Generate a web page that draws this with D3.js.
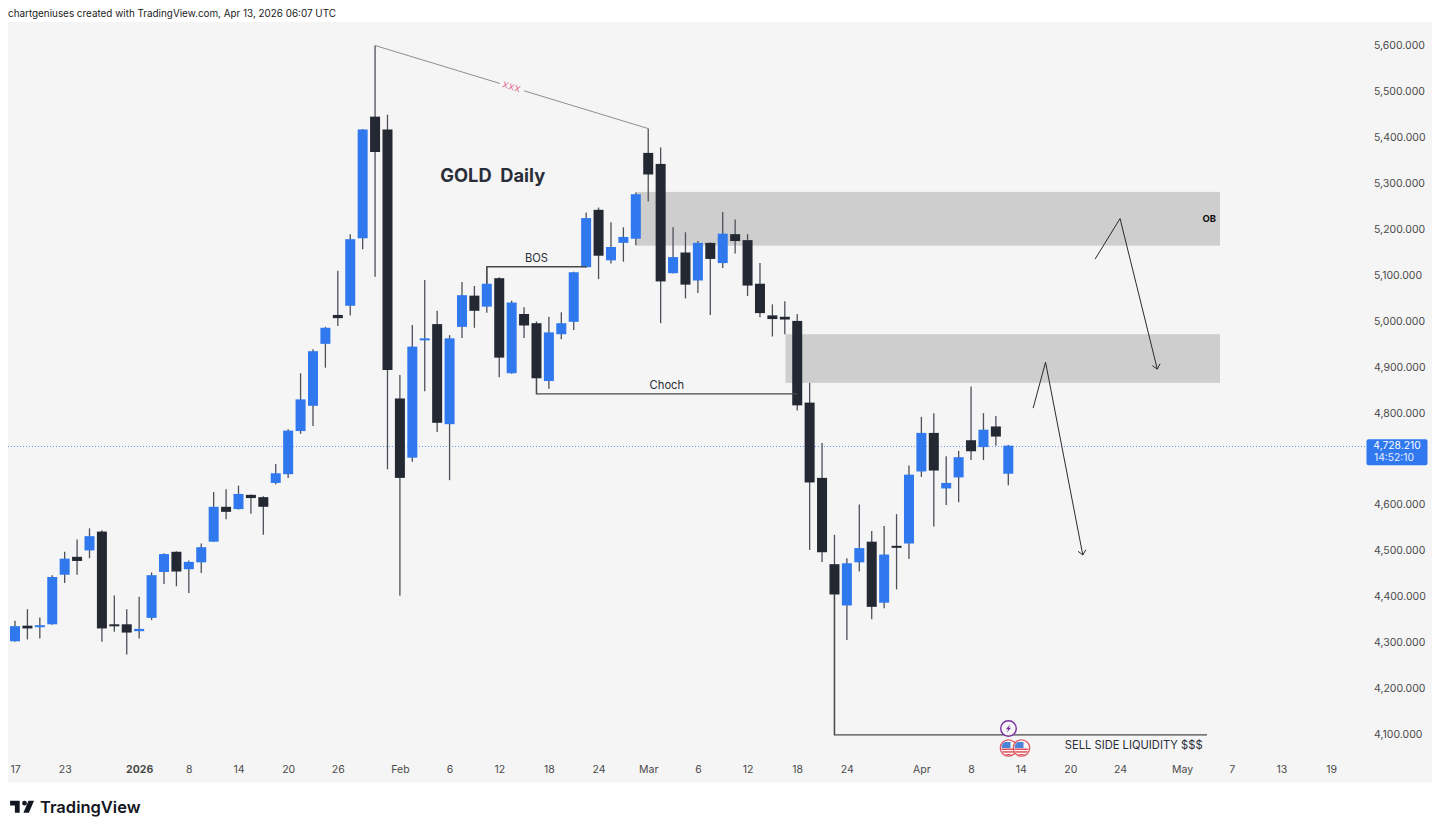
<!DOCTYPE html>
<html>
<head>
<meta charset="utf-8">
<title>GOLD Daily</title>
<script src="https://cdnjs.cloudflare.com/ajax/libs/d3/7.9.0/d3.min.js"></script>
<style>
  html, body { margin: 0; padding: 0; background: #ffffff; overflow: hidden; }
  svg { display: block; }
  text { font-family: Inter, Roboto, sans-serif; }
</style>
</head>
<body>
<svg id="chart" width="1440" height="832"></svg>
<script>
// Daily XAU candles, one entry per session in order
const opens = [4302,4336,4333,4339,4447,4486,4500,4541,4339,4339,4324,4353,4453,4497,4459,4474,4519,4595,4590,4621,4616,
  4647,4666,4760,4815,4950,5013,5033,5180,5445,5417,4831,4702,4958,4993,4775,4987,5055,5031,5093,4886,5015,4995,4869,4971,
  4998,5117,5242,5132,5170,5179,5366,5342,5104,5149,5088,5170,5126,5189,5176,5081,5012,5009,5000,4822,4658,4470,4380,4474,
  4519,4386,4510,4515,4672,4756,4635,4659,4740,4725,4770,4667];
const highs = [4347,4372,4354,4446,4497,4524,4548,4544,4402,4372,4399,4452,4494,4498,4478,4515,4627,4633,4641,4622,4618,
  4688,4764,4886,4938,4987,5109,5189,5418,5600,5449,4882,4991,5089,5022,4969,5085,5076,5118,5095,5044,5030,4999,5009,5019,
  5107,5236,5247,5215,5204,5280,5419,5378,5204,5193,5174,5171,5237,5221,5189,5126,5036,5043,5015,4865,4734,4534,4483,4600,
  4542,4553,4579,4685,4791,4799,4705,4717,4857,4799,4793,4729.5];
const lows = [4301,4306,4308,4338,4429,4447,4483,4301,4323,4273,4308,4348,4427,4422,4407,4451,4519,4568,4589,4580,4534,
  4644,4658,4754,4771,4898,4989,5012,5156,5096,4677,4401,4693,4847,4758,4653,4963,4985,5018,4877,4885,4963,4841,4852,4960,
  4980,5116,5091,5125,5129,5165,5260,4995,5103,5049,5061,5013,5115,5147,5054,5008,4966,4971,4805,4501,4475,4098,4305,4454,
  4350,4374,4415,4481,4660,4552,4599,4605,4697,4697,4728,4642];
const closes = [4335,4330,4337,4442,4482,4477,4531,4330,4336,4321,4329,4446,4492,4454,4475,4507,4595,4584,4623,4614,4595,
  4668,4761,4829,4934,4985,5006,5178,5417,5368,4893,4658,4944,4962,4778,4962,5056,5022,5081,4920,5040,4990,4875,4975,4995,
  5106,5224,5142,5161,5183,5276,5319,5086,5139,5079,5170,5135,5190,5174,5077,5017,5004,5003,4816,4648,4496,4404,4472,4505,
  4377,4491,4509,4665,4756,4674,4647,4703,4716,4763,4748,4728.21];

const lastPrice = 4728.21;
const countdown = "14:52:10";

// Price axis; 4,700 is left out because the last price tag occupies that slot
const priceTicks = [5600,5500,5400,5300,5200,5100,5000,4900,4800,4600,4500,4400,4300,4200,4100];

// Time axis, placed by session index (future sessions continue past the last candle)
const timeLabels = ["17","23","2026","8","14","20","26","Feb","6","12","18","24","Mar","6","12","18","24","Apr","8","14","20","24","May","7","13","19"];
const timeIndex  = [0,4,10,14,18,22,26,31,35,39,43,47,51,55,59,63,67,73,77,81,85,89,94,98,102,106];

// Supply zones: [first session, last session, upper price, lower price]
const zones = [[50, 97.05, 5281, 5164], [62.05, 97.05, 4971, 4865]];

// Trader's drawings, as [session, price] vertices
const peakLine = [[29, 5600], [51, 5419]];
const bosLine = [[38, 5081], [38, 5118], [46, 5118]];
const chochLine = [[42, 4875], [42, 4841], [63, 4841]];
const liquidityLine = [[66, 4404], [66, 4098], [96, 4098]];
const arrowNear = [[82, 4810], [83, 4910], [86, 4490]];
const arrowFar = [[87, 5135], [89, 5223], [92, 4895]];

// Free-standing notes: [text, session, price]
const notes = [
  ["BOS", 42, 5137],
  ["Choch", 52.5, 4860],
  ["SELL SIDE LIQUIDITY $$$", 90.1, 4076]
];

const blue = "#2f78ee", dark = "#242833", wick = "#4c5059", zoneFill = "#cecece";
const bars = d3.range(opens.length);

const svg = d3.select("#chart");
const x = d3.scaleLinear().domain([0, 80]).range([15, 1008.3]);
const y = d3.scaleLinear().domain([4100, 5600]).range([734, 45.5]);
const line = d3.line().x(d => x(d[0])).y(d => y(d[1]));

// Header caption
svg.append("text").attr("x", 8).attr("y", 16.5)
  .attr("font-size", 9.9).attr("fill", "#222")
  .text("chartgeniuses created with TradingView.com, Apr 13, 2026 06:07 UTC");

// Chart panel
svg.append("rect").attr("x", 8).attr("y", 22).attr("width", 1424).attr("height", 760.5).attr("fill", "#f5f5f5");

// Zones sit under the candles
svg.append("g").selectAll("rect").data(zones).join("rect")
  .attr("x", d => x(d[0]))
  .attr("width", d => x(d[1]) - x(d[0]))
  .attr("y", d => y(d[2]))
  .attr("height", d => y(d[3]) - y(d[2]))
  .attr("fill", zoneFill);

// Last price guide, snapped to the pixel grid so the dots stay crisp
const lastY = Math.round(y(lastPrice)) + 0.5;
svg.append("line")
  .attr("x1", 8).attr("x2", 1366)
  .attr("y1", lastY).attr("y2", lastY)
  .attr("stroke", blue).attr("stroke-opacity", 0.7).attr("stroke-width", 1).attr("stroke-dasharray", "1 2");

// Candles
const candles = svg.append("g");
candles.selectAll("line").data(bars).join("line")
  .attr("x1", i => x(i)).attr("x2", i => x(i))
  .attr("y1", i => y(highs[i])).attr("y2", i => y(lows[i]))
  .attr("stroke", wick).attr("stroke-width", 1.3);
const bodyWidth = 10;
const minBody = 2;
candles.selectAll("rect").data(bars).join("rect")
  .attr("x", i => x(i) - bodyWidth / 2)
  .attr("width", bodyWidth)
  .attr("y", i => y(Math.max(opens[i], closes[i])))
  .attr("height", i => Math.max(minBody, Math.abs(y(opens[i]) - y(closes[i]))))
  .attr("fill", i => closes[i] >= opens[i] ? blue : dark);

// Peak-to-peak line, broken around its label
const peakA = peakLine[0], peakB = peakLine[1];
const peakAt = t => [peakA[0] + (peakB[0] - peakA[0]) * t, peakA[1] + (peakB[1] - peakA[1]) * t];
const anno = svg.append("g").attr("fill", "none");
anno.append("path").attr("d", line([peakA, peakAt(0.457)])).attr("stroke", "#8f8f8f").attr("stroke-width", 1);
anno.append("path").attr("d", line([peakAt(0.545), peakB])).attr("stroke", "#8f8f8f").attr("stroke-width", 1);
const mid = peakAt(0.5);
const peakAngle = Math.atan2(y(peakB[1]) - y(peakA[1]), x(peakB[0]) - x(peakA[0])) * 180 / Math.PI;
svg.append("text")
  .attr("transform", `translate(${x(mid[0])},${y(mid[1])}) rotate(${peakAngle})`)
  .attr("text-anchor", "middle").attr("dy", "0.34em")
  .attr("font-size", 8.5).attr("letter-spacing", 0.5).attr("fill", "#d9608b").text("XXX");

// Structure lines
[bosLine, chochLine, liquidityLine].forEach(pts => {
  anno.append("path").attr("d", line(pts)).attr("stroke", "#4a4a4a").attr("stroke-width", 1.3);
});

// Projection arrows with open heads
[arrowNear, arrowFar].forEach(pts => {
  anno.append("path").attr("d", line(pts)).attr("stroke", "#2b2b2b").attr("stroke-width", 1);
  const a = pts[pts.length - 2], b = pts[pts.length - 1];
  const tipX = x(b[0]), tipY = y(b[1]);
  const ang = Math.atan2(tipY - y(a[1]), tipX - x(a[0]));
  const head = 6, spread = 0.72;
  const p1 = [tipX - head * Math.cos(ang - spread), tipY - head * Math.sin(ang - spread)];
  const p2 = [tipX - head * Math.cos(ang + spread), tipY - head * Math.sin(ang + spread)];
  anno.append("path").attr("d", d3.line()([p1, [tipX, tipY], p2])).attr("stroke", "#2b2b2b").attr("stroke-width", 1);
});

// Notes
svg.append("g").selectAll("text").data(notes).join("text")
  .attr("x", d => x(d[1])).attr("y", d => y(d[2]))
  .attr("text-anchor", "middle").attr("dy", "0.36em")
  .attr("font-size", 11.2).attr("fill", "#2a2e39")
  .text(d => d[0]);

svg.append("text").attr("x", x(34.25)).attr("y", y(5318))
  .attr("dy", "0.36em").attr("xml:space", "preserve").style("white-space", "pre")
  .attr("font-size", 18.3).attr("font-weight", 700).attr("fill", "#2a2e39")
  .text("GOLD  Daily");

svg.append("text").attr("x", x(97.05) - 4).attr("y", y(5222))
  .attr("text-anchor", "end").attr("dy", "0.36em")
  .attr("font-size", 9.5).attr("font-weight", 700).attr("fill", "#111")
  .text("OB");

// Economic event markers on the last session
const eventX = x(80);
const defs = svg.append("defs");
const flagR = 7.2;
const flags = [eventX + 0.2, eventX + 13.2];
const flagGroup = svg.append("g");
flags.forEach((fx, k) => {
  const g = flagGroup.append("g").attr("transform", `translate(${fx},748)`);
  defs.append("clipPath").attr("id", "flagClip" + k).append("circle").attr("r", flagR);
  g.append("circle").attr("r", flagR + 1).attr("fill", "#fff").attr("stroke", "#e0525c").attr("stroke-width", 1.3);
  const inner = g.append("g").attr("clip-path", `url(#flagClip${k})`);
  inner.append("rect").attr("x", -8).attr("y", -8).attr("width", 16).attr("height", 16).attr("fill", "#f8f8f8");
  [0.5, 3.2, 6].forEach(sy => {
    inner.append("rect").attr("x", -8).attr("y", sy).attr("width", 16).attr("height", 1.5).attr("fill", "#e0525c");
  });
  inner.append("rect").attr("x", -7).attr("y", -6).attr("width", 9).attr("height", 6).attr("fill", "#4a84d8");
});
const bolt = svg.append("g").attr("transform", `translate(${eventX + 0.2},728.5)`);
bolt.append("circle").attr("r", 7.8).attr("fill", "#f5f5f5").attr("stroke", "#7a2fa0").attr("stroke-width", 1.4);
bolt.append("path").attr("d", "M1.8,-4.2 L-2.6,0.8 L-0.2,0.8 L-1.8,4.2 L2.6,-0.8 L0.2,-0.8 Z").attr("fill", "#7a2fa0");

// Price axis
const yAxis = d3.axisRight(y).tickValues(priceTicks).tickFormat(d3.format(",.3f")).tickSize(0).tickPadding(0);
const yG = svg.append("g").attr("transform", "translate(1374,0)").call(yAxis);
yG.select(".domain").remove();
yG.selectAll("text").attr("font-family", "Inter, Roboto, sans-serif").attr("font-size", 10.5).attr("fill", "#4a4a4a");

// Time axis
const xAxis = d3.axisBottom(x).tickValues(timeIndex).tickFormat((d, i) => timeLabels[i]).tickSize(0).tickPadding(0);
const xG = svg.append("g").attr("transform", "translate(0,766)").call(xAxis);
xG.select(".domain").remove();
xG.selectAll("text").attr("font-family", "Inter, Roboto, sans-serif").attr("font-size", 10.5).attr("fill", "#4a4a4a")
  .attr("font-weight", (d, i) => timeLabels[i] === "2026" ? 700 : 400);

// Last price tag: price above the bar countdown
svg.append("rect").attr("x", 1366.5).attr("y", y(lastPrice) - 6.5).attr("width", 61).attr("height", 26).attr("rx", 2).attr("fill", blue);
svg.append("text").attr("x", 1397).attr("y", y(lastPrice) + 3.4)
  .attr("text-anchor", "middle").attr("font-size", 10.3).attr("fill", "#fff")
  .text(d3.format(",.3f")(lastPrice));
svg.append("text").attr("x", 1394).attr("y", y(lastPrice) + 15.4)
  .attr("text-anchor", "middle").attr("font-size", 10.3).attr("fill", "#e8f0ff")
  .text(countdown);

// Brand mark
const brand = svg.append("g").attr("transform", "translate(8.5,796) scale(0.8)");
brand.append("path").attr("fill", "#131722")
  .attr("d", "M14 6H2v6h6v9h6V6Zm11.5 15h-6.9l6.4-15h6.9l-6.4 15ZM20 12a3 3 0 1 0 0-6 3 3 0 0 0 0 6Z");
svg.append("text").attr("x", 40).attr("y", 813)
  .attr("font-size", 16.5).attr("font-weight", 600).attr("fill", "#131722").text("TradingView");
</script>
</body>
</html>
